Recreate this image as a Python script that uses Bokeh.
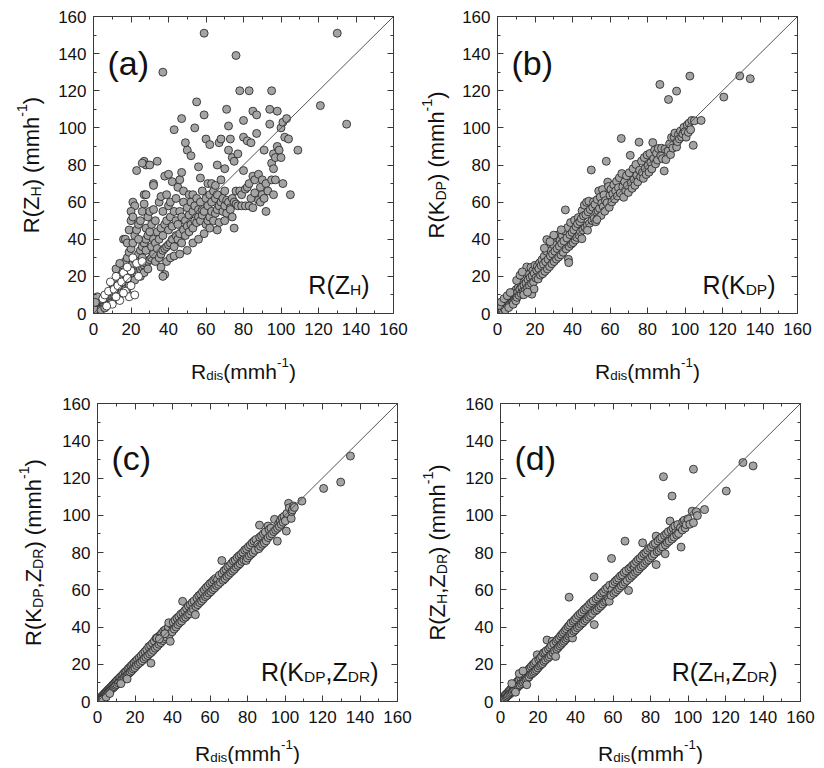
import math
from bokeh.plotting import figure
from bokeh.layouts import row, column
from bokeh.models import (Range1d, SingleIntervalTicker, LinearAxis, Label, Slope)
from bokeh.embed import file_html
from bokeh.resources import INLINE

# ---------------- data ----------------
AXIS_RANGE = [0, 160]
TICK_STEP = 20

# panel (a): R(Z_H) vs R_dis  -- grey points (x = R_dis, y = estimate)
A_GREY = [
    (0.5,0.5),(1,1),(1,2),(1.5,3),(2,1),(2,2.5),(2,4),(2.5,5),(3,2),(3,3.5),(3,6),(3.5,4.5),(4,3),(4,5),(4,7),
    (4.5,6),(5,4),(5,6),(5,8),(5.5,5),(6,5),(6,7),(6,9),(6.5,8),(7,6),(7,8),(7,10),(7.5,7),(8,7),(8,9),(8,11),
    (8.5,8),(9,8),(9,10),(9,12),(9.5,9),(10,9),(10,11),(10,13),(1,4),(1.5,6),(2,7),(0.5,2),(3,8),(2,9),(1,6),
    (4,2),(6,3),(8,5),(10,6),(9,5.5),(7,4.5),
    (11,10),(11,13),(11,16),(12,11),(12,14),(12,18),(13,12),(13,15),(13,20),(14,13),(14,17),(14,22),(15,14),
    (15,18),(15,24),(16,15),(16,20),(16,26),(17,16),(17,21),(17,28),(18,17),(18,22),(18,30),(19,18),(19,24),
    (19,33),(20,19),(20,25),(20,35),(16,40),(17,40),(18,38),(19,45),(20,50),(21,60),(22,58),(20,55),(21,52),
    (12,24),(14,27),(13,9),(15,11),(17,13),(19,15),(18,11),
    (21,20),(21,27),(21,38),(22,21),(22,29),(22,42),(23,22),(23,30),(23,45),(24,23),(24,32),(24,48),(25,24),
    (25,34),(25,50),(26,25),(26,36),(26,55),(27,26),(27,38),(27,59),(28,27),(28,40),(28,46),(29,28),(29,42),
    (29,52),(30,29),(30,44),(30,55),(23,77),(27,82),(28,80),(26,81),(30,80),(32,70),(32,69),(27,64),(28,64),
    (22,18),(25,20),(27,22),(29,24),(26,30),(24,40),(28,34),
    (31,30),(31,36),(31,48),(32,32),(32,40),(32,56),(33,28),(33,38),(33,50),(34,35),(34,44),(34,82),(35,30),
    (35,40),(35,60),(36,32),(36,46),(36,63),(37,34),(37,42),(37,55),(37,130),(38,35),(38,48),(38,74),(38,21),
    (39,36),(39,50),(39,64),(40,37),(40,45),(40,58),(40,75),(41,38),(41,52),(41,60),(42,40),(42,47),(42,71),
    (43,36),(43,55),(43,99),(44,42),(44,50),(44,62),(45,40),(45,48),(45,68),(39,28),(41,30),(43,31),(36,25),
    (37,20),
    (46,43),(46,55),(46,72),(47,38),(47,52),(47,76),(47,105),(48,45),(48,60),(48,66),(49,42),(49,50),(49,92),
    (50,47),(50,57),(50,88),(51,44),(51,53),(51,64),(52,48),(52,60),(52,85),(53,46),(53,55),(53,64),(54,50),
    (54,58),(54,100),(55,49),(55,62),(55,114),(56,52),(56,56),(56,79),(57,50),(57,60),(57,73),(58,53),(58,66),
    (58,56),(59,107),(59,151),(59,55),(59,43),(60,48),(60,62),(60,94),(50,34),(53,38),(56,40),(46,32),
    (61,50),(61,58),(61,70),(62,52),(62,64),(62,91),(63,55),(63,60),(63,70),(64,50),(64,66),(65,54),(65,62),
    (65,69),(66,56),(66,64),(66,80),(67,49),(67,58),(67,92),(68,60),(68,72),(68,94),(69,55),(69,62),(70,58),
    (70,66),(70,78),(71,54),(71,61),(71,110),(72,60),(72,101),(72,88),(73,57),(73,56),(73,94),(74,62),(74,84),
    (75,46),(75,60),(75,82),(76,59),(76,66),(76,139),(77,86),(77,58),(78,66),(78,120),(79,64),(79,58),(80,77),
    (80,104),(80,95),(62,46),(66,45),(70,50),(74,52),
    (81,67),(81,58),(82,68),(82,93),(83,120),(83,70),(83,58),(84,62),(84,92),(85,74),(85,109),(85,57),(86,72),
    (86,65),(87,107),(87,97),(88,61),(88,75),(89,60),(89,68),(90,64),(90,72),(91,88),(91,62),(92,70),(93,66),
    (94,110),(94,102),(95,120),(95,72),(95,81),(96,86),(96,78),(97,84),(97,72),(98,109),(98,90),(99,88),
    (100,100),(100,84),(101,103),(101,70),(102,95),(103,105),(104,94),(105,64),(109,88),(121,112),(130,151),
    (135,102),(92,55),(96,64),
]
# panel (a): white points
A_WHITE = [
    (5,8),(6,10),(8,12),(9,17),(11,13),(12,20),(13,15),(14,7),(15,17),(16,22),(17,12),(18,19),(19,9),(20,23),
    (21,30),(22,10),(23,27),(26,28),(24,20),(10,5),(7,4),(12,9),(16,11),(20,15),(18,25),
]

# panel (b): R(K_DP) vs R_dis
B_PTS = [
    (0.4,0.8),(0.8,2.1),(1.1,0.6),(1.3,3.2),(1.7,1.4),(2.1,2.9),(2.3,4.6),(2.6,1.8),(3.0,3.7),(3.2,5.4),
    (3.6,2.6),(3.9,4.4),(4.2,6.3),(4.5,3.4),(4.8,5.1),(5.1,7.2),(5.4,4.0),(5.8,6.1),(6.1,8.4),(6.3,4.9),
    (6.7,7.0),(7.0,9.3),(7.3,5.8),(7.6,7.9),(8.0,10.6),(8.2,6.5),(8.6,9.1),(9.0,11.8),(9.3,7.4),(9.7,10.2),
    (10.0,12.9),(1.0,4.4),(2.0,6.2),(3.5,8.0),(5.2,9.6),(6.8,11.3),(4.1,1.9),(6.0,3.2),(8.4,5.0),(9.8,6.9),
    (10.4,8.7),(10.8,11.6),(11.2,14.2),(11.5,9.8),(11.9,12.9),(12.3,16.5),(12.6,10.7),(13.0,14.1),(13.4,17.8),
    (13.7,11.9),(14.1,15.3),(14.5,19.6),(14.8,12.6),(15.2,16.4),(15.6,25.1),(15.9,14.0),(16.3,18.2),
    (16.7,21.0),(17.0,15.1),(17.4,19.4),(17.8,24.8),(18.1,16.2),(18.5,20.3),(18.9,23.1),(19.2,17.0),
    (19.6,21.6),(20.0,26.0),(10.2,17.8),(12.0,20.6),(14.0,10.1),(18.3,10.4),(19.5,13.2),(16.0,11.5),
    (13.2,22.4),
    (20.5,19.1),(20.9,23.4),(21.3,25.5),(21.7,18.6),(22.1,24.1),(22.5,27.3),(22.9,20.7),(23.3,25.8),
    (23.7,28.9),(24.1,21.4),(24.5,26.5),(24.9,30.8),(25.3,22.7),(25.7,27.9),(26.1,33.6),(26.3,39.8),
    (26.6,24.0),(27.0,29.2),(27.4,35.3),(27.8,25.3),(28.2,31.0),(28.6,33.9),(29.0,26.8),(29.4,32.2),
    (29.8,37.1),(30.2,28.0),(30.6,33.5),(31.0,41.6),(31.4,29.3),(31.8,35.0),(32.2,42.3),(32.6,30.4),
    (33.0,36.2),(33.4,39.5),(33.8,31.6),(34.2,37.8),(34.6,41.9),(35.0,33.0),(35.4,39.0),(35.8,44.4),
    (36.2,55.8),(36.6,34.8),(37.0,40.7),(37.4,46.3),(37.8,29.2),(38.2,36.1),(38.6,42.5),(39.0,49.0),
    (39.4,37.4),(39.8,43.7),(38.0,27.4),(30.0,42.2),(34.0,45.1),(28.0,38.7),(25.0,35.2),
    (40.3,38.2),(40.7,45.1),(41.1,50.3),(41.5,39.6),(41.9,46.8),(42.3,41.0),(42.7,48.4),(43.1,51.7),
    (43.5,42.2),(43.9,49.5),(44.3,44.1),(44.7,51.1),(45.1,55.4),(45.5,45.0),(45.9,52.6),(46.3,58.4),
    (46.7,46.2),(47.1,53.3),(47.5,59.9),(47.9,47.5),(48.3,54.8),(48.7,60.5),(49.1,48.6),(49.5,56.0),
    (50.0,77.3),(50.4,50.1),(50.8,57.2),(51.2,60.2),(51.6,51.3),(52.0,58.8),(52.4,49.4),(52.8,54.6),
    (53.2,61.4),(53.6,55.3),(54.0,66.0),(54.4,56.6),(54.8,62.7),(55.2,52.8),(55.6,59.4),(56.0,66.8),
    (56.4,57.5),(56.8,63.9),(57.2,55.1),(57.6,60.8),(58.0,82.0),(58.4,59.6),(58.8,70.8),(59.2,68.4),
    (59.6,57.2),(60.0,63.7),(45.0,40.3),(48.0,44.8),(53.0,50.6),
    (60.5,66.9),(61.0,60.1),(61.5,64.4),(62.0,69.3),(62.5,61.7),(63.0,66.0),(63.5,71.2),(64.0,63.3),
    (64.5,67.8),(65.0,73.1),(65.5,64.9),(66.0,94.3),(66.3,75.4),(66.8,68.3),(67.3,62.6),(67.8,71.0),
    (68.3,66.4),(68.8,74.2),(69.3,69.0),(69.8,65.2),(70.3,75.8),(70.8,85.2),(71.3,70.3),(71.8,67.4),
    (72.3,78.0),(72.8,72.1),(73.3,69.0),(73.8,80.3),(74.3,74.4),(74.8,70.9),(75.5,92.3),(75.8,77.2),
    (76.3,73.6),(76.8,82.1),(77.3,76.0),(77.8,72.8),(78.3,84.0),(78.8,78.1),(79.3,74.9),(79.8,85.4),
    (80.3,79.6),(80.8,76.1),(81.3,86.2),(81.8,81.3),(82.3,77.9),(82.8,92.1),(83.3,83.4),(83.8,88.0),
    (84.3,80.6),(84.8,86.3),(85.3,82.7),(85.8,88.9),(86.6,123.4),(87.0,85.1),(87.5,89.0),(88.0,83.4),
    (88.9,76.8),(89.3,88.6),(89.8,82.9),
    (91.2,115.3),(91.0,87.5),(91.8,91.4),(92.3,85.6),(92.8,94.8),(93.5,89.1),(94.2,95.0),(94.6,97.2),
    (95.5,119.8),(95.5,89.7),(96.0,92.6),(96.5,96.4),(97.0,94.1),(97.6,98.3),(98.2,95.1),(98.8,96.8),
    (99.4,100.3),(100.0,98.0),(100.6,95.0),(101.2,101.6),(101.8,97.6),(102.2,102.6),(102.6,127.9),
    (103.6,104.0),(104.4,90.6),(103.0,99.0),(105.0,103.8),(108.6,104.0),(120.7,116.6),(129.2,128.0),
    (134.8,126.5),
]

# panel (c): R(K_DP, Z_DR) vs R_dis
C_PTS = [
    (0.3,0.5),(0.6,0.9),(0.9,1.4),(1.2,0.8),(1.5,1.9),(1.8,1.3),(2.1,2.6),(2.4,2.0),(2.7,3.1),(3.0,2.4),
    (3.3,3.8),(3.6,3.0),(3.9,4.4),(4.2,3.6),(4.5,5.0),(4.8,4.1),(5.1,5.7),(5.4,4.6),(5.7,6.3),(6.0,5.2),
    (6.3,6.9),(6.6,5.8),(6.9,7.5),(7.2,6.4),(7.5,8.1),(7.8,7.0),(8.1,8.8),(8.4,7.4),(8.7,9.4),(9.0,8.0),
    (9.3,10.1),(9.6,8.7),(9.9,10.8),(10.3,9.2),(10.7,11.6),(11.1,10.0),(11.5,12.4),(11.9,10.7),(12.3,13.2),
    (12.7,11.3),(13.1,14.0),(13.5,12.1),(13.9,14.9),(14.3,12.8),(14.7,15.8),(15.1,13.6),(15.5,16.4),
    (15.9,14.2),(16.3,17.5),(16.7,15.1),(17.1,18.2),(17.5,15.8),(17.9,19.1),(18.3,16.6),(18.7,19.9),
    (19.1,17.5),(19.5,20.8),(19.9,18.2),(2.8,1.0),(4.6,2.4),(6.5,4.3),(12.5,9.6),(15.8,12.1),
    (20.4,21.7),(20.8,19.3),(21.3,22.6),(21.8,20.2),(22.3,23.5),(22.8,21.0),(23.3,24.6),(23.8,21.9),
    (24.3,25.7),(24.8,22.9),(25.3,26.8),(25.8,23.8),(26.3,27.9),(26.8,24.7),(27.3,29.4),(27.8,25.6),
    (28.3,30.1),(28.5,20.6),(28.8,26.4),(29.3,31.2),(29.8,27.5),(30.3,32.4),(30.8,28.6),(31.3,34.0),
    (31.8,29.5),(32.3,34.6),(32.8,30.7),(33.3,35.5),(33.8,31.6),(34.3,36.7),(34.8,32.7),(35.3,37.9),
    (35.8,33.8),(36.3,38.6),(36.8,34.6),(37.4,37.7),(37.8,40.1),(38.3,35.6),(38.8,32.3),(39.3,41.5),
    (39.8,37.4),(31.7,34.0),(38.0,42.3),(33.0,33.6),(36.0,36.4),
    (40.4,42.6),(40.9,38.9),(41.4,43.7),(41.9,40.0),(42.4,44.8),(42.9,41.3),(43.4,45.6),(43.9,42.4),
    (44.4,46.9),(45.4,53.8),(44.9,43.2),(45.5,47.6),(46.0,44.6),(46.5,48.7),(47.0,45.3),(47.5,50.0),
    (48.0,46.4),(48.5,51.2),(49.0,47.1),(49.5,52.0),(50.0,48.5),(50.5,53.1),(51.0,49.6),(51.5,54.0),
    (52.2,46.6),(52.5,51.0),(53.0,55.6),(53.5,52.0),(54.0,56.8),(54.5,53.1),(55.0,57.6),(55.5,54.0),
    (56.0,58.9),(56.5,55.1),(57.0,60.0),(57.5,56.3),(58.0,61.2),(58.5,57.0),(59.0,62.1),(59.5,58.2),
    (60.0,63.3),(60.5,59.0),(61.0,64.1),(61.5,60.1),(62.0,65.2),(62.5,61.0),(63.0,66.1),(63.5,62.2),
    (64.0,65.5),(64.5,62.9),(65.0,67.8),(65.5,64.0),(66.3,75.7),(66.5,68.8),(67.0,65.1),(67.5,70.2),
    (68.0,66.0),(68.5,71.0),(69.0,67.2),(69.5,72.3),(70.0,68.1),
    (70.5,73.0),(71.0,69.2),(71.5,74.2),(72.0,70.1),(72.5,75.4),(73.0,71.0),(73.5,76.0),(74.0,72.2),
    (74.5,77.3),(75.0,73.1),(75.5,78.2),(76.0,74.0),(76.5,79.0),(77.0,75.2),(77.5,80.1),(78.0,76.1),
    (78.5,81.3),(79.3,75.7),(79.5,82.0),(80.0,77.0),(80.5,83.1),(81.0,78.2),(81.5,84.0),(82.0,79.1),
    (82.5,85.2),(83.0,80.0),(83.5,86.1),(84.0,81.2),(84.5,87.0),(85.5,84.3),(86.4,94.7),(86.0,82.0),
    (86.5,88.2),(87.0,83.3),(87.5,89.0),(88.0,84.4),(88.5,90.1),(89.0,85.2),(89.5,91.0),(90.0,86.3),
    (90.9,94.2),(91.0,88.0),(91.5,92.3),(92.0,89.0),(92.5,93.1),(93.0,90.0),(94.4,97.8),(94.0,91.2),
    (95.0,92.1),(95.9,86.1),(96.6,95.4),(96.0,93.0),(97.0,94.0),(97.5,97.0),(98.0,95.1),(98.5,98.6),
    (99.0,96.2),(99.5,99.4),(100.2,97.0),(100.7,91.5),(101.0,101.0),(101.9,106.4),(102.3,104.0),
    (103.3,98.3),(103.6,102.0),(104.6,105.0),(104.0,103.0),(105.0,104.2),(109.0,107.6),(120.6,114.4),
    (129.7,117.8),(134.9,131.8),
]

# panel (d): R(Z_H, Z_DR) vs R_dis
D_PTS = [
    (0.3,0.6),(0.7,1.2),(1.0,0.7),(1.3,2.0),(1.6,1.1),(2.0,2.8),(2.3,1.7),(2.6,3.5),(3.0,2.3),(3.3,4.2),
    (3.6,2.9),(4.0,4.9),(4.3,3.5),(4.6,5.6),(5.0,4.1),(5.3,6.4),(5.6,4.7),(6.0,7.1),(6.3,5.2),(6.6,7.9),
    (7.0,5.9),(7.3,8.7),(7.6,6.5),(8.0,9.4),(8.3,7.1),(8.6,10.2),(9.0,7.6),(9.3,11.0),(9.6,8.3),(10.0,11.9),
    (10.4,8.9),(10.8,12.7),(11.2,9.6),(11.6,13.6),(12.0,10.3),(12.4,14.5),(12.8,11.0),(13.2,15.4),
    (13.6,11.7),(14.0,16.2),(14.4,12.5),(14.8,17.0),(15.2,13.2),(15.6,17.9),(16.0,14.4),(16.4,18.8),
    (16.8,14.9),(17.2,19.7),(17.6,15.6),(18.0,20.5),(18.4,16.3),(18.8,21.4),(19.2,17.1),(19.6,25.1),
    (20.0,18.0),(10.0,15.0),(12.0,16.4),(14.0,9.0),(8.0,5.0),(6.0,9.6),
    (20.4,22.5),(20.8,19.0),(21.2,23.3),(21.6,19.8),(22.0,24.3),(22.4,20.4),(22.8,26.0),(23.2,21.5),
    (23.6,26.4),(24.0,22.3),(24.4,27.2),(24.8,33.0),(25.2,23.2),(25.6,28.1),(26.0,24.0),(26.4,29.0),
    (26.8,25.0),(27.6,32.3),(27.2,30.1),(28.0,26.1),(28.4,31.0),(28.8,27.2),(29.4,24.2),(29.6,32.2),
    (30.0,28.1),(30.4,33.3),(30.8,29.0),(31.2,34.0),(31.6,29.9),(32.0,35.2),(32.4,30.7),(32.8,36.1),
    (33.2,31.6),(33.6,37.0),(34.0,32.4),(34.4,38.1),(34.8,33.3),(35.2,39.0),(36.6,56.0),(35.6,34.1),
    (36.0,40.2),(36.4,35.0),(36.8,41.0),(37.2,35.9),(38.4,34.1),(37.6,42.2),(38.0,36.8),(38.8,43.1),
    (39.2,37.7),(39.6,44.0),
    (40.0,38.5),(40.5,45.0),(41.0,39.6),(41.5,46.2),(42.0,40.4),(42.5,47.1),(43.0,41.5),(43.5,48.0),
    (44.0,42.3),(44.5,49.2),(45.0,43.4),(45.5,50.1),(46.0,44.3),(46.5,51.0),(47.0,45.4),(47.5,52.2),
    (48.0,46.2),(48.5,53.1),(49.0,47.3),(49.9,66.9),(50.0,41.3),(49.5,54.0),(50.5,48.6),(51.0,55.2),
    (51.5,49.3),(52.0,56.0),(52.5,50.4),(53.0,57.1),(53.5,51.2),(54.0,58.3),(54.5,52.3),(55.0,59.0),
    (55.5,53.4),(56.0,60.3),(56.5,54.1),(57.0,61.1),(57.5,55.2),(58.0,53.8),(58.2,62.4),(59.2,76.8),
    (59.4,60.1),(59.0,57.0),(60.0,63.2),(60.5,58.1),(61.0,64.4),(61.5,59.0),(62.0,65.3),(62.5,60.1),
    (63.0,66.2),(63.5,61.0),(64.0,67.4),(64.5,62.1),(65.0,68.0),(65.5,63.0),(66.4,86.1),(66.0,69.3),
    (66.5,64.1),(67.0,70.2),(67.5,65.0),(68.3,59.6),(68.5,71.3),(69.0,66.2),(69.5,72.1),(70.0,67.3),
    (70.5,73.2),(71.4,72.1),(71.0,68.2),(71.5,74.0),(72.0,69.3),(72.5,75.2),(73.0,70.1),(73.5,76.3),
    (74.0,71.2),(74.5,77.0),(75.0,72.3),(75.8,85.2),(75.5,78.2),(76.0,73.1),(76.5,79.3),(77.0,74.2),
    (77.5,80.0),(78.0,75.3),(78.5,81.2),(79.0,76.1),(79.5,82.3),(80.0,77.2),(80.5,83.0),(81.0,78.1),
    (81.5,84.3),(82.0,79.2),(82.5,85.0),(83.0,88.8),(83.0,73.5),(83.5,80.4),(84.0,86.2),(84.5,81.1),
    (85.0,87.3),(85.5,82.2),(86.0,88.1),(86.9,120.7),(86.5,83.0),(87.8,79.3),(87.5,89.2),(88.0,84.1),
    (88.5,90.1),(89.0,85.3),(89.5,91.2),(90.4,96.9),(90.0,86.1),(91.5,110.3),(91.0,92.0),(91.5,87.2),
    (92.0,93.1),(92.5,88.3),(93.6,91.5),(93.0,94.2),(94.0,89.4),(94.5,95.0),(95.0,90.2),(96.3,82.9),
    (96.0,93.4),(97.2,96.5),(97.0,92.1),(98.0,97.3),(98.5,93.2),(99.0,95.0),(100.0,98.1),(101.0,95.2),
    (102.2,102.2),(102.9,124.7),(102.9,96.0),(104.4,101.9),(105.0,99.8),(108.8,103.1),(120.4,113.0),
    (129.3,128.3),(134.7,126.5),
]

# ---------------- styling ----------------
FONT = "Liberation Sans"
FRAME = "#3a3a3a"
GREY_FILL = "#a4a4a4"
PT_LINE = "#1e1e1e"
TXT = "#111111"

# Arial / Liberation Sans advance widths (em)
WID = {"R": .722, "(": .333, ")": .333, "Z": .611, "H": .722, "K": .667, "D": .722, "P": .667,
       ",": .278, " ": .278, "m": .833, "h": .556, "-": .333, "1": .556, "d": .556, "i": .222,
       "s": .5}


def text_w(t, size):
    return sum(WID.get(ch, .556) for ch in t) * size


def rich(p, pieces, x0, y0, size, rotated=False, align="left", sub_scale=0.64):
    """Place text made of normal / sub / sup pieces (screen units relative to frame)."""
    small = size * sub_scale
    sizes = [size if k == "n" else small for _, k in pieces]
    total = sum(text_w(t, s) for (t, _), s in zip(pieces, sizes))
    pos = {"left": 0.0, "center": -total / 2, "right": -total}[align]
    for (t, k), s in zip(pieces, sizes):
        shift = 0.0 if k == "n" else (-0.2 * size if k == "sub" else 0.42 * size)
        if rotated:
            x, y, ang = x0 - shift, y0 + pos, math.pi / 2
        else:
            x, y, ang = x0 + pos, y0 + shift, 0.0
        p.add_layout(Label(x=x, y=y, x_units="screen", y_units="screen", text=t, angle=ang,
                           text_font=FONT, text_font_size=f"{s:.1f}px", text_color=TXT,
                           text_align="left", text_baseline="alphabetic"))
        pos += text_w(t, s)


def strip(w, h):
    s = figure(width=w, height=h, x_range=Range1d(0, 1), y_range=Range1d(0, 1), title=None,
               x_axis_type=None, y_axis_type=None, output_backend="svg", toolbar_location=None,
               min_border_left=0, min_border_right=0, min_border_top=0, min_border_bottom=0,
               frame_align=False)
    s.outline_line_color = None
    s.background_fill_color = "white"
    s.border_fill_color = "white"
    return s


YS_W = 46


def make_panel(pts_list, tag, ylab, ann, cfg):
    W, H = cfg["W"], cfg["H"]
    mw = W - YS_W
    fh = cfg["fh"]
    mh = cfg["top"] + fh + cfg["bottom_border"]
    p = figure(width=mw, height=mh, title=None,
               x_range=Range1d(*AXIS_RANGE), y_range=Range1d(*AXIS_RANGE),
               output_backend="svg", toolbar_location=None,
               min_border_left=cfg["left"], min_border_right=mw - cfg["left"] - 300,
               min_border_top=cfg["top"], min_border_bottom=cfg["bottom_border"],
               frame_align=False)
    p.xgrid.visible = False
    p.ygrid.visible = False
    p.outline_line_color = FRAME
    p.outline_line_width = 1
    p.background_fill_color = "white"
    p.border_fill_color = "white"

    for ax in (p.xaxis[0], p.yaxis[0]):
        ax.ticker = SingleIntervalTicker(interval=TICK_STEP, num_minor_ticks=2)
        ax.major_tick_in = 6
        ax.major_tick_out = 0
        ax.minor_tick_in = 3
        ax.minor_tick_out = 0
        ax.axis_line_color = FRAME
        ax.major_tick_line_color = FRAME
        ax.minor_tick_line_color = FRAME
        ax.major_label_text_font = FONT
        ax.major_label_text_font_size = "17px"
        ax.major_label_text_color = TXT
        ax.axis_label = None
    p.xaxis[0].major_label_standoff = 9
    p.yaxis[0].major_label_standoff = 7

    for loc in ("above", "right"):
        ax = LinearAxis(ticker=SingleIntervalTicker(interval=TICK_STEP, num_minor_ticks=2),
                        major_tick_in=6, major_tick_out=0, minor_tick_in=3, minor_tick_out=0,
                        axis_line_color=FRAME, major_tick_line_color=FRAME,
                        minor_tick_line_color=FRAME, major_label_text_font_size="0px",
                        major_label_text_color=None, major_label_standoff=0)
        p.add_layout(ax, loc)

    p.add_layout(Slope(gradient=1, y_intercept=0, line_color="#555555", line_width=1))

    for pts, fill in pts_list:
        xs = [a for a, _ in pts]
        ys = [b for _, b in pts]
        p.scatter(xs, ys, size=8, fill_color=fill, line_color=PT_LINE, line_width=0.8)

    # panel tag
    p.add_layout(Label(x=14, y=fh - cfg["tag_top"], x_units="screen", y_units="screen", text=tag,
                       text_font=FONT, text_font_size="34px", text_color=TXT,
                       text_baseline="alphabetic"))
    # in-panel annotation (right aligned)
    rich(p, ann, 300 - cfg["ann_r"], cfg["ann_b"], 25, align="right", sub_scale=0.62)

    # x axis label strip
    xs_strip = strip(mw, H - mh)
    rich(xs_strip, [("R", "n"), ("dis", "sub"), ("(mmh", "n"), ("-1", "sup"), (")", "n")],
         cfg["left"] + 150, cfg["xlab_y"], 21, align="center")
    # y axis label strip
    ys_strip = strip(YS_W, H)
    rich(ys_strip, ylab, cfg["ylab_x"], cfg["ylab_cy"], 22, rotated=True, align="center")
    return row(ys_strip, column(p, xs_strip))


TOP = dict(W=412, H=384, top=16, fh=297, bottom_border=32, tag_top=46, ann_b=29,
           xlab_y=13, ylab_cy=219.5)
BOT = dict(W=412, H=380, top=19, fh=298, bottom_border=30, tag_top=54, ann_b=30,
           xlab_y=11.5, ylab_cy=212)

pa = make_panel([(A_GREY, GREY_FILL), (A_WHITE, "white")], "(a)",
                [("R(Z", "n"), ("H", "sub"), (") (mmh", "n"), ("-1", "sup"), (")", "n")],
                [("R(Z", "n"), ("H", "sub"), (")", "n")],
                dict(TOP, left=47, ylab_x=31, ann_r=24))
pb = make_panel([(B_PTS, GREY_FILL)], "(b)",
                [("R(K", "n"), ("DP", "sub"), (") (mmh", "n"), ("-1", "sup"), (")", "n")],
                [("R(K", "n"), ("DP", "sub"), (")", "n")],
                dict(TOP, left=39, ylab_x=24, ann_r=22))
pc = make_panel([(C_PTS, GREY_FILL)], "(c)",
                [("R(K", "n"), ("DP", "sub"), (",Z", "n"), ("DR", "sub"), (") (mmh", "n"),
                 ("-1", "sup"), (")", "n")],
                [("R(K", "n"), ("DP", "sub"), (",Z", "n"), ("DR", "sub"), (")", "n")],
                dict(BOT, left=51, ylab_x=33, ann_r=19))
pd = make_panel([(D_PTS, GREY_FILL)], "(d)",
                [("R(Z", "n"), ("H", "sub"), (",Z", "n"), ("DR", "sub"), (") (mmh", "n"),
                 ("-1", "sup"), (")", "n")],
                [("R(Z", "n"), ("H", "sub"), (",Z", "n"), ("DR", "sub"), (")", "n")],
                dict(BOT, left=42, ylab_x=25, ann_r=23))

layout = column(row(pa, pb), row(pc, pd))
open("out.html", "w").write(file_html(layout, INLINE))
